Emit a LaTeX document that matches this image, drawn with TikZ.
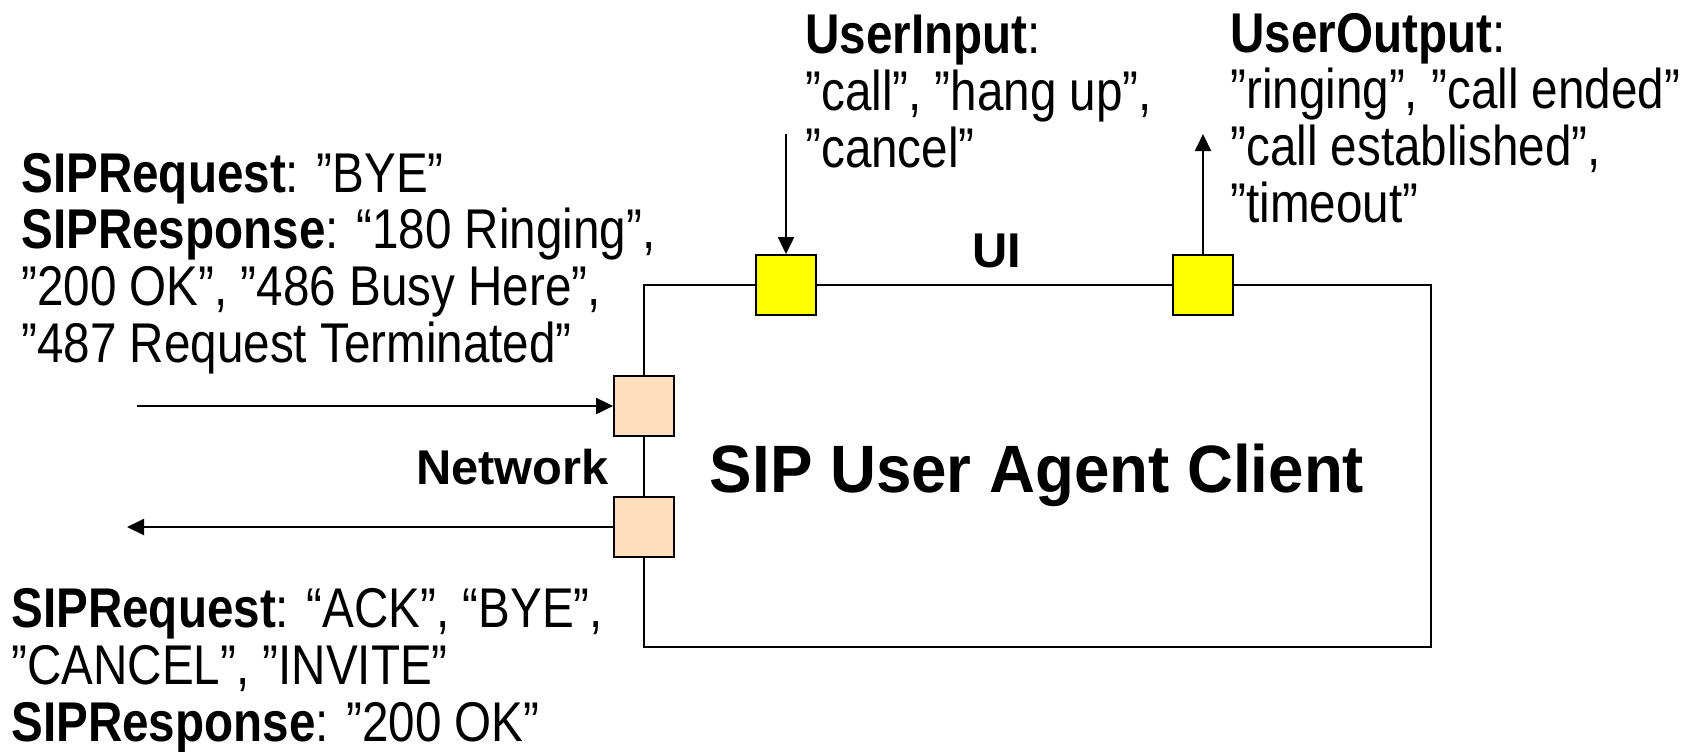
\documentclass[tikz,border=0pt]{standalone}
\usepackage{fontspec}
\setmainfont{Liberation Sans}
\newfontfamily\msgfont[FakeStretch=0.85]{Liberation Sans}
\newfontfamily\headfont[FakeStretch=0.95]{Liberation Sans}
\usetikzlibrary{arrows.meta}
\definecolor{portyellow}{HTML}{FFFF00}
\definecolor{portpeach}{HTML}{FFDEBD}
\tikzset{
  txt/.style={inner sep=0pt, align=left, anchor=base west, font=\msgfont\fontsize{28}{28.3}\selectfont},
  lbl/.style={inner sep=0pt, font=\fontsize{24.4}{26}\selectfont\bfseries},
  port/.style={draw=black, line width=0.9pt, minimum size=30pt, inner sep=0pt},
  uiport/.style={port, fill=portyellow},
  netport/.style={port, fill=portpeach},
  msg/.style={line width=1pt, -{Triangle[length=8.5pt,width=8pt]}},
}
\begin{document}
\begin{tikzpicture}[x=0.5pt, y=-0.5pt]
\useasboundingbox (0,0) rectangle (1684,751);
% agent box
\node[draw, line width=0.9pt, minimum width=393.5pt, minimum height=181pt, inner sep=0pt] (uac) at (1037.5,466) {};
\node[anchor=base, inner sep=0pt, font=\headfont\fontsize{33.5}{35}\selectfont\bfseries] (title) at (1037,492) {SIP User Agent Client};
% ports
\node[uiport] (uiIn) at (786,285) {};
\node[uiport] (uiOut) at (1203,285) {};
\node[netport] (netIn) at (644,406) {};
\node[netport] (netOut) at (644,527) {};
% interface labels
\node[lbl, anchor=base] (ui) at (997,267) {UI};
\node[lbl, anchor=base east] (net) at (609,484) {Network};
% message texts (anchored at the baseline of their last line)
\node[txt] (inMsg) at (21,362) {\textbf{SIPRequest}: ”BYE”\\\textbf{SIPResponse}: “180 Ringing”,\\”200 OK”, ”486 Busy Here”,\\”487 Request Terminated”};
\node[txt] (outMsg) at (11,741) {\textbf{SIPRequest}: “ACK”, “BYE”,\\”CANCEL”, ”INVITE”\\\textbf{SIPResponse}: ”200 OK”};
\node[txt] (userIn) at (805,167) {\textbf{UserInput}:\\”call”, ”hang up”,\\”cancel”};
\node[txt] (userOut) at (1230,222) {\textbf{UserOutput}:\\”ringing”, ”call ended”\\”call established”,\\”timeout”};
% connectors
\coordinate (inSrc) at (137,406);
\coordinate (outDst) at (127,527);
\coordinate (userSrc) at (786,134);
\coordinate (userDst) at (1203,134);
\draw[msg] (inSrc) -- (netIn.west);
\draw[msg] (netOut.west) -- (outDst);
\draw[msg] (userSrc) -- (uiIn.north);
\draw[msg] (uiOut.north) -- (userDst);
\end{tikzpicture}
\end{document}
